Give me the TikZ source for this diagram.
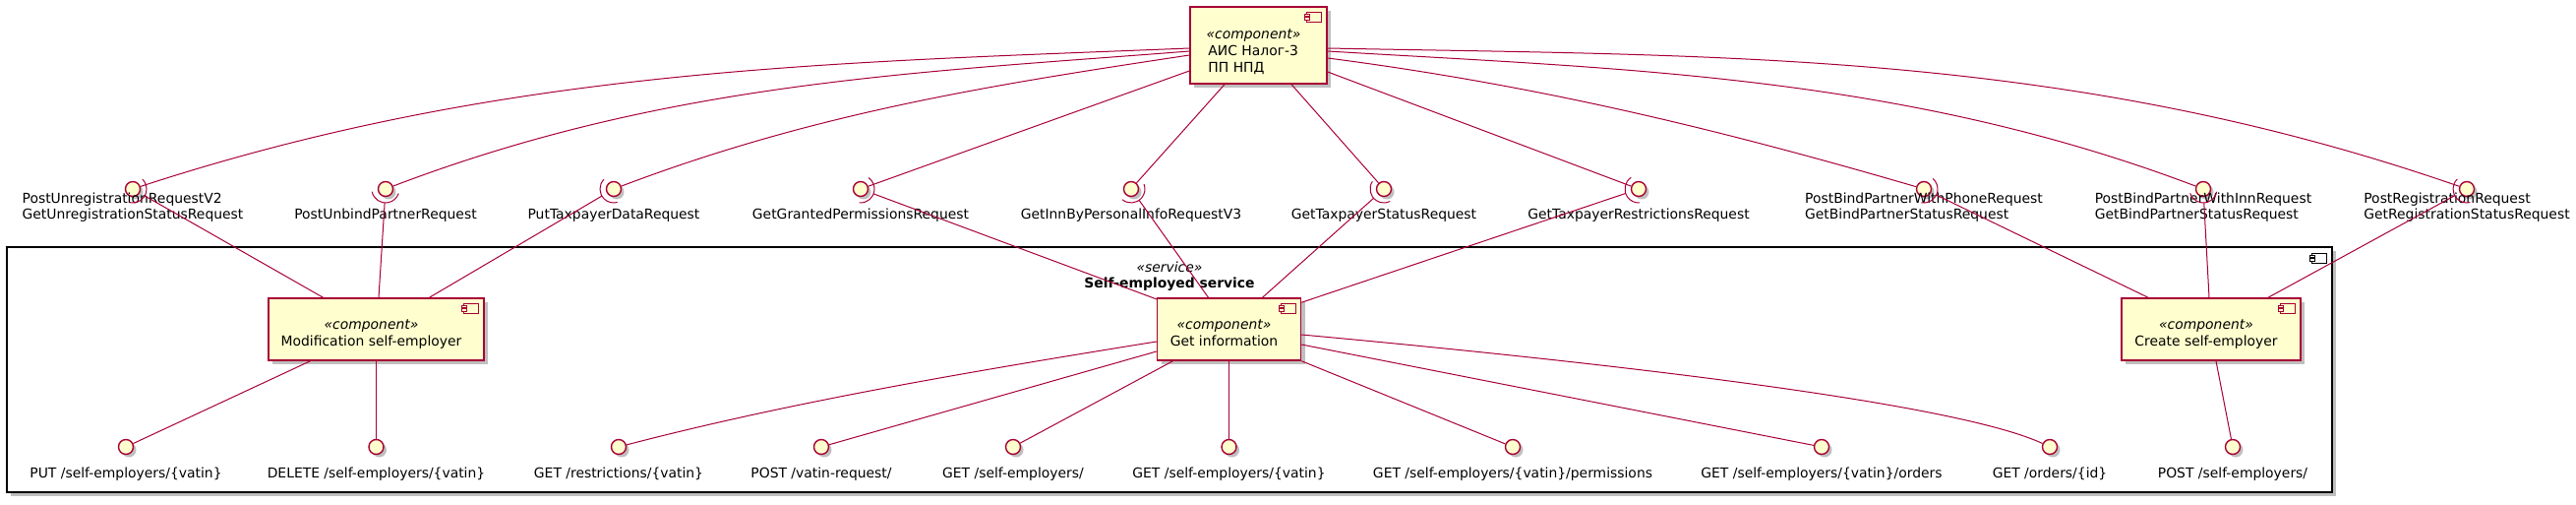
\documentclass[tikz,border=0pt]{standalone}
\usepackage{fontspec}
\setmainfont{DejaVu Sans}
\usetikzlibrary{calc,shadows}
\definecolor{pu}{HTML}{A80036}
\definecolor{pfill}{HTML}{FEFECE}
\newcommand\socketarc[2]{%
  \draw[conn] let \p1=(#1.center), \p2=(#2), \n1={atan2(\y2-\y1,\x2-\x1)} in
    ($(\p1)+(\n1-75:14pt)$) arc[start angle=\n1-75, end angle=\n1+75, radius=14pt];
  \draw[conn] ($(#1.center)!14pt!(#2)$) -- (#2);
}
\begin{document}
\begin{tikzpicture}[x=1pt,y=-1pt,
  conn/.style={draw=pu, line width=1pt},
  comp/.style={draw=pu, fill=pfill, line width=1.5pt, rectangle, inner sep=0pt,
    drop shadow={shadow xshift=4pt, shadow yshift=-4pt, opacity=0.25, fill=black}},
  iface/.style={circle, draw=pu, fill=pfill, line width=1.4pt, minimum size=15pt, inner sep=0pt,
    drop shadow={shadow xshift=3pt, shadow yshift=-3pt, opacity=0.25, fill=black}},
  lbl/.style={font=\fontsize{13.9}{15.5}\selectfont, align=left, inner sep=0pt, text height=10.1pt, anchor=north},
  txt/.style={font=\fontsize{13.9}{17}\selectfont, inner sep=0pt, anchor=base},
  stereo/.style={txt, font=\fontsize{13.9}{17}\selectfont\itshape},
  cicon/.pic={
    \draw[pic actions, line width=1pt] (-15,0) rectangle (0,10);
    \draw[pic actions, line width=1pt] (-17,2) rectangle (-12,4.5);
    \draw[pic actions, line width=1pt] (-17,5.5) rectangle (-12,8);
  }
]
\useasboundingbox (0,0) rectangle (2619,513);

% service frame
\node[draw=black, fill=white, line width=1.5pt, rectangle, inner sep=0pt,
  minimum width=2364pt, minimum height=249pt,
  drop shadow={shadow xshift=4pt, shadow yshift=-4pt, opacity=0.25, fill=black}] (svc) at (1189,375.5) {};
\pic[draw=black, fill=white] at ([shift={(-6pt,-7pt)}]svc.north east) {cicon};
\node[stereo] (svcs) at ([yshift=-26pt]svc.north) {«service»};
\node[txt, font=\fontsize{13.9}{17}\selectfont\bfseries] (svcn) at ([yshift=-42pt]svc.north) {Self-employed service};

% components
\node[comp, minimum width=139pt, minimum height=78pt] (ais) at (1279.5,46) {};
\node[comp, minimum width=219pt, minimum height=63pt] (mod) at (382.5,334.5) {};
\node[comp, minimum width=146pt, minimum height=63pt] (gi) at (1249.5,334.5) {};
\node[comp, minimum width=182pt, minimum height=63pt] (cr) at (2248,334.5) {};
\foreach \n in {ais,mod,gi,cr}{
  \pic[draw=pu, fill=pfill] at ([shift={(-6pt,-6pt)}]\n.north east) {cicon};
}
\node[stereo] (aiss) at ([shift={(-5pt,-33pt)}]ais.north) {«component»};
\node[txt, anchor=base west] (aisn1) at ([shift={(19pt,-50pt)}]ais.north west) {АИС Налог-3};
\node[txt, anchor=base west] (aisn2) at ([shift={(19pt,-67pt)}]ais.north west) {ПП НПД};
\node[stereo] (mods) at ([shift={(-5pt,-32pt)}]mod.north) {«component»};
\node[txt] (modn) at ([shift={(-5pt,-49pt)}]mod.north) {Modification self-employer};
\node[stereo] (gis) at ([shift={(-5pt,-32pt)}]gi.north) {«component»};
\node[txt] (gin) at ([shift={(-5pt,-49pt)}]gi.north) {Get information};
\node[stereo] (crs) at ([shift={(-5pt,-32pt)}]cr.north) {«component»};
\node[txt] (crn) at ([shift={(-5pt,-49pt)}]cr.north) {Create self-employer};

% top interfaces
\node[iface] (i1) at (135,192) {};
\node[iface] (i2) at (392,192) {};
\node[iface] (i3) at (624,192) {};
\node[iface] (i4) at (875,192) {};
\node[iface] (i5) at (1150,192) {};
\node[iface] (i6) at (1407,192) {};
\node[iface] (i7) at (1666,192) {};
\node[iface] (i8) at (1956,192) {};
\node[iface] (i9) at (2240,192) {};
\node[iface] (i10) at (2508,192) {};
\node[lbl] (l1) at ([yshift=-20pt]i1.center) {PostUnregistrationRequestV2\\GetUnregistrationStatusRequest};
\node[lbl] (l2) at ([yshift=-20pt]i2.center) {PostUnbindPartnerRequest};
\node[lbl] (l3) at ([yshift=-20pt]i3.center) {PutTaxpayerDataRequest};
\node[lbl] (l4) at ([yshift=-20pt]i4.center) {GetGrantedPermissionsRequest};
\node[lbl] (l5) at ([yshift=-20pt]i5.center) {GetInnByPersonalInfoRequestV3};
\node[lbl] (l6) at ([yshift=-20pt]i6.center) {GetTaxpayerStatusRequest};
\node[lbl] (l7) at ([yshift=-20pt]i7.center) {GetTaxpayerRestrictionsRequest};
\node[lbl] (l8) at ([yshift=-20pt]i8.center) {PostBindPartnerWithPhoneRequest\\GetBindPartnerStatusRequest};
\node[lbl] (l9) at ([yshift=-20pt]i9.center) {PostBindPartnerWithInnRequest\\GetBindPartnerStatusRequest};
\node[lbl] (l10) at ([yshift=-20pt]i10.center) {PostRegistrationRequest\\GetRegistrationStatusRequest};

% bottom interfaces
\node[iface] (b1) at (128,454) {};
\node[iface] (b2) at (382.5,454) {};
\node[iface] (b3) at (629,454) {};
\node[iface] (b4) at (835,454) {};
\node[iface] (b5) at (1030,454) {};
\node[iface] (b6) at (1249.5,454) {};
\node[iface] (b7) at (1538,454) {};
\node[iface] (b8) at (1852,454) {};
\node[iface] (b9) at (2084,454) {};
\node[iface] (b10) at (2270,454) {};
\node[lbl] (k1) at ([yshift=-21pt]b1.center) {PUT /self-employers/\{vatin\}};
\node[lbl] (k2) at ([yshift=-21pt]b2.center) {DELETE /self-employers/\{vatin\}};
\node[lbl] (k3) at ([yshift=-21pt]b3.center) {GET /restrictions/\{vatin\}};
\node[lbl] (k4) at ([yshift=-21pt]b4.center) {POST /vatin-request/};
\node[lbl] (k5) at ([yshift=-21pt]b5.center) {GET /self-employers/};
\node[lbl] (k6) at ([yshift=-21pt]b6.center) {GET /self-employers/\{vatin\}};
\node[lbl] (k7) at ([yshift=-21pt]b7.center) {GET /self-employers/\{vatin\}/permissions};
\node[lbl] (k8) at ([yshift=-21pt]b8.center) {GET /self-employers/\{vatin\}/orders};
\node[lbl] (k9) at ([yshift=-21pt]b9.center) {GET /orders/\{id\}};
\node[lbl] (k10) at ([yshift=-21pt]b10.center) {POST /self-employers/};

% provided interfaces of AIS
\draw[conn] ([yshift=-3pt]ais.west) .. controls (840,64) and (511,69) .. (i1);
\draw[conn] ([yshift=-6pt]ais.west) .. controls (930,74) and (678,83) .. (i2);
\draw[conn] ([yshift=-10pt]ais.west) .. controls (1010,86) and (830,114) .. (i3);
\draw[conn] ([yshift=-26pt]ais.west) -- (i4);
\draw[conn] ([xshift=-34.5pt]ais.south) -- (i5);
\draw[conn] ([xshift=33.5pt]ais.south) -- (i6);
\draw[conn] ([yshift=-27pt]ais.east) -- (i7);
\draw[conn] ([yshift=-13pt]ais.east) .. controls (1558,86) and (1740,129) .. (i8);
\draw[conn] ([yshift=-6pt]ais.east) .. controls (1648,70) and (1934,76) .. (i9);
\draw[conn] ([yshift=-3pt]ais.east) .. controls (1748,57) and (2102,51) .. (i10);

% required interfaces (sockets)
\coordinate (m1) at ([xshift=-54pt]mod.north);
\coordinate (m2) at ([xshift=2.5pt]mod.north);
\coordinate (m3) at ([xshift=54pt]mod.north);
\coordinate (g1) at ([shift={(1pt,-2pt)}]gi.north west);
\coordinate (g2) at ([xshift=-21pt]gi.north);
\coordinate (g3) at ([xshift=34pt]gi.north);
\coordinate (g4) at ([yshift=-5pt]gi.north east);
\coordinate (c1) at ([xshift=-64pt]cr.north);
\coordinate (c2) at ([xshift=-2pt]cr.north);
\coordinate (c3) at ([xshift=58pt]cr.north);
\socketarc{i1}{m1}
\socketarc{i2}{m2}
\socketarc{i3}{m3}
\socketarc{i4}{g1}
\socketarc{i5}{g2}
\socketarc{i6}{g3}
\socketarc{i7}{g4}
\socketarc{i8}{c1}
\socketarc{i9}{c2}
\socketarc{i10}{c3}

% provided REST interfaces
\draw[conn] ([xshift=-67pt]mod.south) -- (b1);
\draw[conn] (mod.south) -- (b2);
\draw[conn] ([yshift=-12.5pt]gi.west) .. controls (996,376) and (809,407) .. (b3);
\draw[conn] ([yshift=-22.5pt]gi.west) -- (b4);
\draw[conn] ([xshift=-57pt]gi.south) -- (b5);
\draw[conn] (gi.south) -- (b6);
\draw[conn] (gi.south east) -- (b7);
\draw[conn] ([yshift=-15.5pt]gi.east) -- (b8);
\draw[conn] ([yshift=-5.5pt]gi.east) .. controls (1650,370) and (1990,410) .. (b9);
\draw[conn] ([xshift=5pt]cr.south) -- (b10);
\end{tikzpicture}
\end{document}
